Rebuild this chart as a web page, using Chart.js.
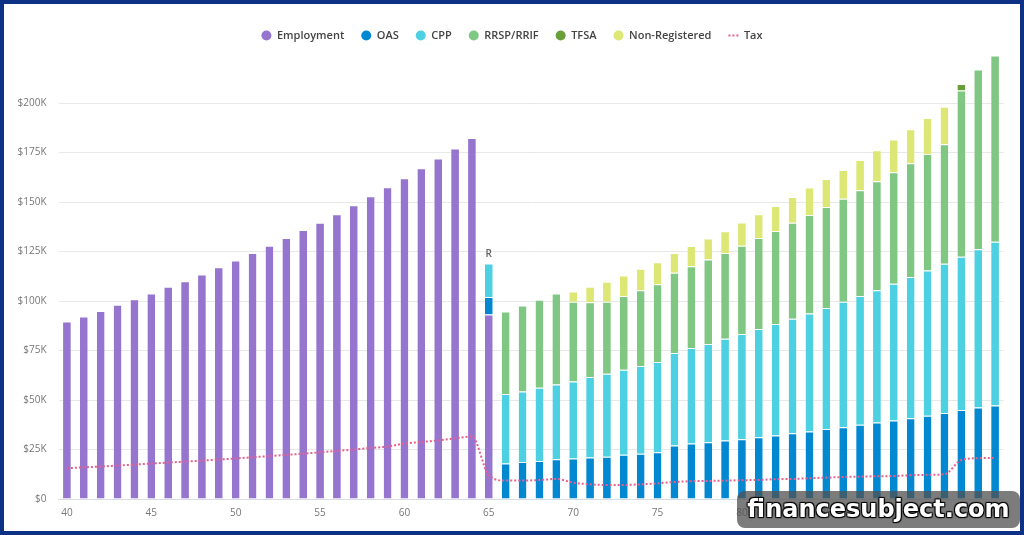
<!DOCTYPE html>
<html><head><meta charset="utf-8">
<script src="https://cdn.jsdelivr.net/npm/chart.js@4.4.0/dist/chart.umd.min.js"></script>
<style>
html,body{margin:0;padding:0;background:#fff;}
#frame{position:relative;width:1024px;height:535px;box-sizing:border-box;border:4px solid #0d3185;background:#fff;overflow:hidden;}
#wrap{position:absolute;left:0;top:0;width:1016px;height:527px;}
#wm{position:absolute;left:733px;top:487px;width:283px;height:37px;border-radius:8px;background:rgba(80,80,80,0.75);color:#fff;font-family:"DejaVu Sans";font-weight:bold;font-size:24px;text-align:center;line-height:36px;text-shadow:1px 1px 1px #000,-1px -1px 1px #000,1px -1px 1px #000,-1px 1px 1px #000;}
</style></head>
<body>
<div id="frame">
  <div id="wrap"><canvas id="c"></canvas></div>
  <div id="wm">financesubject.com</div>
</div>
<script>
const ages = ['40','41','42','43','44','45','46','47','48','49','50','51','52','53','54','55','56','57','58','59','60','61','62','63','64','65','66','67','68','69','70','71','72','73','74','75','76','77','78','79','80','81','82','83','84','85','86','87','88','89','90','91','92','93','94','95'];
const _ = null;
const employment = [89600,92200,95000,98100,100900,103800,107200,110000,113400,117100,120500,124200,127900,131800,135900,139600,143800,148400,152900,157500,162000,167100,172000,177100,182400,93200,_,_,_,_,_,_,_,_,_,_,_,_,_,_,_,_,_,_,_,_,_,_,_,_,_,_,_,_,_,_];
const oas = [_,_,_,_,_,_,_,_,_,_,_,_,_,_,_,_,_,_,_,_,_,_,_,_,_,8800,17900,18700,19200,20100,20400,20900,21400,22400,22900,23600,27000,28000,28700,29500,30200,31200,32100,33200,34100,35300,36300,37500,38600,39600,40800,42000,43400,44900,46200,47200];
const cpp = [_,_,_,_,_,_,_,_,_,_,_,_,_,_,_,_,_,_,_,_,_,_,_,_,_,16900,35100,35600,37000,37800,39000,40700,41900,42900,44300,45600,46800,48300,49600,51400,53200,54700,56300,57800,59600,61200,63300,65100,66900,69100,71300,73400,75400,77500,79900,82800];
const rrsp = [_,_,_,_,_,_,_,_,_,_,_,_,_,_,_,_,_,_,_,_,_,_,_,_,_,_,41700,43400,44400,45900,40200,37800,36400,37300,38300,39300,40500,41300,42700,43300,44500,45900,47000,48600,49800,51000,52100,53300,55000,56400,57500,58900,60400,84000,90800,94000];
const tfsa = [_,_,_,_,_,_,_,_,_,_,_,_,_,_,_,_,_,_,_,_,_,_,_,_,_,_,_,_,_,_,_,_,_,_,_,_,_,_,_,_,_,_,_,_,_,_,_,_,_,_,_,_,_,3200,_,_];
const nonRegistered = [_,_,_,_,_,_,_,_,_,_,_,_,_,_,_,_,_,_,_,_,_,_,_,_,_,_,_,_,_,_,5200,7800,10000,10300,10800,11100,9900,10200,10600,11000,11800,12000,12600,13000,13800,14200,14500,15400,15700,16500,17200,18100,18900,_,_,_];
const tax = [15500,16000,16400,16900,17400,17900,18400,18900,19400,19900,20500,21100,21700,22300,22900,23600,24300,25000,25800,26500,28000,28800,29600,30600,31600,12000,9300,9300,9600,10100,8300,7400,7100,7100,7400,7900,8600,9000,9100,9300,9500,9600,10000,10100,10500,10800,11100,11300,11500,11600,12000,12200,12500,19700,20600,20800];
const yTicks = [0,25000,50000,75000,100000,125000,150000,175000,200000];
const retireLabel = {age:'65', text:'R'};

const COLORS = {emp:'#9575cd', oas:'#0288d1', cpp:'#4dd0e1', rrsp:'#81c784', tfsa:'#689f38', nr:'#dce775', tax:'#e8608f'};
const sep = 'rgba(255,255,255,0.85)';
function barDs(label, data, color){
  return {type:'bar', label, data, backgroundColor:color, borderColor:sep, borderWidth:{top:1,left:0,right:0,bottom:0}, borderSkipped:'start', stack:'inc', order:1, barPercentage:0.46, categoryPercentage:1.0};
}
const rPlugin = {
  id:'rlabel',
  afterDatasetsDraw(chart){
    const idx = ages.indexOf(retireLabel.age);
    let top = Infinity, x = null;
    chart.data.datasets.forEach((d,i)=>{
      if (d.type!=='bar') return;
      const el = chart.getDatasetMeta(i).data[idx];
      if (el && d.data[idx]!=null){ top = Math.min(top, el.y); x = el.x; }
    });
    if (x===null) return;
    const ctx = chart.ctx;
    ctx.save();
    ctx.font = '600 10px "Open Sans"';
    ctx.fillStyle = '#666';
    ctx.textAlign = 'center';
    ctx.textBaseline = 'bottom';
    ctx.fillText(retireLabel.text, x, top - 4);
    ctx.restore();
  }
};
new Chart(document.getElementById('c'), {
  data:{
    labels: ages,
    datasets:[
      barDs('Employment', employment, COLORS.emp),
      barDs('OAS', oas, COLORS.oas),
      barDs('CPP', cpp, COLORS.cpp),
      barDs('RRSP/RRIF', rrsp, COLORS.rrsp),
      barDs('TFSA', tfsa, COLORS.tfsa),
      barDs('Non-Registered', nonRegistered, COLORS.nr),
      {type:'line', label:'Tax', data:tax, borderColor:COLORS.tax, backgroundColor:COLORS.tax, borderWidth:2, borderDash:[2,2], pointRadius:0, pointHoverRadius:0, cubicInterpolationMode:'monotone', fill:false, stack:'tax', order:0}
    ]
  },
  options:{
    responsive:true, maintainAspectRatio:false, animation:false,
    layout:{padding:{top:9,left:0,right:0,bottom:0}},
    plugins:{
      tooltip:{enabled:false},
      legend:{
        position:'top', align:'center',
        labels:{
          usePointStyle:true, boxHeight:7, boxWidth:7, pointStyleWidth:10, padding:17,
          color:'#444', font:{family:'"Open Sans"', size:11, weight:'600'},
          sort:(a,b)=>a.datasetIndex-b.datasetIndex,
          generateLabels(chart){
            const items = Chart.defaults.plugins.legend.labels.generateLabels(chart);
            items.forEach(it=>{
              const ds = chart.data.datasets[it.datasetIndex];
              if (ds.type==='line'){
                it.pointStyle='line'; it.strokeStyle=COLORS.tax; it.lineWidth=2; it.lineDash=[2,2];
              } else {
                it.pointStyle='circle'; it.lineWidth=0; it.strokeStyle=ds.backgroundColor;
              }
            });
            return items;
          }
        }
      }
    },
    scales:{
      x:{
        stacked:true, offset:true,
        grid:{display:false},
        border:{display:true, color:'#d9dde5'},
        afterFit(s){ s.height = 32; },
        ticks:{autoSkip:false, maxRotation:0, padding:0, color:'#777', font:{family:'"Open Sans"', size:10},
          callback(v){ const l = this.getLabelForValue(v); return (+l)%5===0 ? l : ''; }}
      },
      y:{
        stacked:true, min:0, max:226300,
        afterBuildTicks(s){ s.ticks = yTicks.map(v=>({value:v})); },
        afterFit(s){ s.width = 54.5; },
        grid:{color:'#e8e8e8', drawTicks:false, lineWidth:1},
        border:{display:false},
        ticks:{padding:12, color:'#777', font:{family:'"Open Sans"', size:10},
          callback(v){ return v===0 ? '$0' : '$' + (v/1000) + 'K'; }}
      },
      yRight:{
        position:'right', min:0, max:1,
        afterBuildTicks(s){ s.ticks = []; },
        afterFit(s){ s.width = 16.5; },
        grid:{display:false, drawTicks:false},
        border:{display:false},
        ticks:{display:false}
      }
    }
  },
  plugins:[rPlugin]
});
</script>
</body></html>
